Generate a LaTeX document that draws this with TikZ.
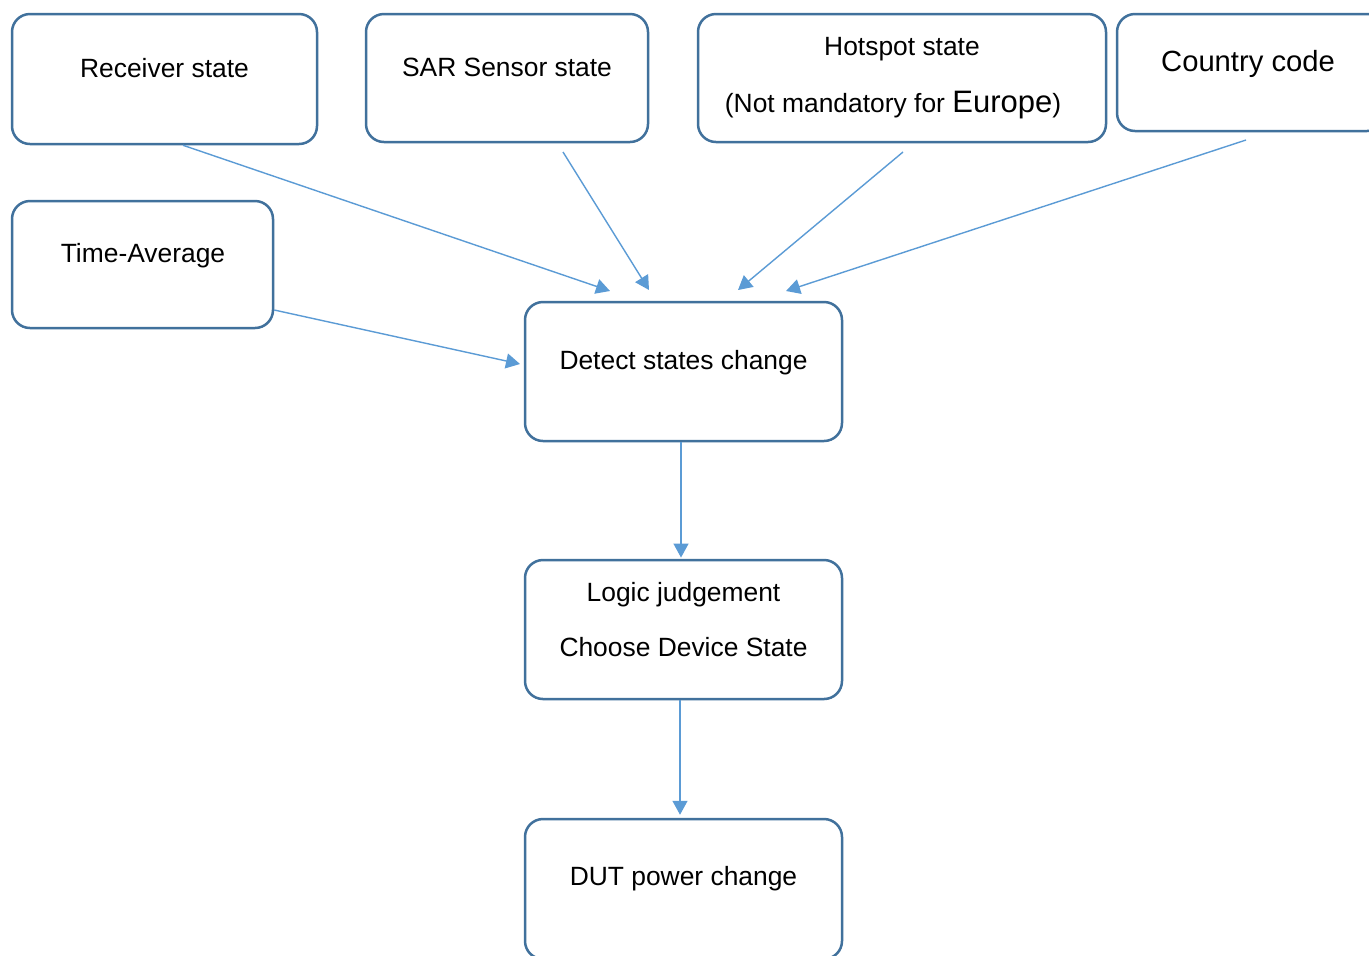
\documentclass[tikz,border=0pt]{standalone}
\usepackage{fontspec}
\setmainfont{Liberation Sans}
\usetikzlibrary{arrows.meta}
\definecolor{boxblue}{HTML}{41719C}
\definecolor{arrblue}{HTML}{5B9BD5}
\tikzset{
  box/.style={draw=boxblue, line width=1.25pt, rounded corners=9pt, fill=white, inner sep=0pt},
  lbl/.style={anchor=base, inner sep=0pt, font=\fontsize{13.2}{15}\selectfont, text=black},
  conn/.style={draw=arrblue, line width=0.7pt, -{Triangle[length=7pt,width=7.5pt]}}
}
\begin{document}
\begin{tikzpicture}[x=0.5pt,y=-0.5pt]
\useasboundingbox (0,0) rectangle (1369,955);
\clip (0,0) rectangle (1369,955);
\fill[white] (0,0) rectangle (1369,955);
% boxes
\node[box, minimum width=152.5pt, minimum height=65pt] (recv) at (164.5,79) {};
\node[box, minimum width=141pt, minimum height=64pt] (sar) at (507,78) {};
\node[box, minimum width=204pt, minimum height=64pt] (hot) at (902,78) {};
\node[box, minimum width=134pt, minimum height=58.5pt] (country) at (1251,72.5) {};
\node[box, minimum width=130.5pt, minimum height=63.5pt] (time) at (142.5,264.5) {};
\node[box, minimum width=158.5pt, minimum height=69.5pt] (detect) at (683.5,371.5) {};
\node[box, minimum width=158.5pt, minimum height=69.5pt] (logic) at (683.5,629.5) {};
\node[box, minimum width=158.5pt, minimum height=70pt] (dut) at (683.5,889) {};
% labels
\node[lbl] (recvt) at (164.5,77) {Receiver state};
\node[lbl] (sart) at (507,76) {SAR Sensor state};
\node[lbl] (hott) at (902,55) {Hotspot state};
\node[lbl] (hott2) at (893,112) {(Not mandatory for {\fontsize{15.5}{17}\selectfont Europe})};
\node[lbl, font=\fontsize{14.6}{17}\selectfont] (countryt) at (1248,71) {Country code};
\node[lbl] (timet) at (143,262) {Time-Average};
\node[lbl] (detectt) at (683.5,369) {Detect states change};
\node[lbl] (logict) at (683.5,601.5) {Logic judgement};
\node[lbl] (logict2) at (683.5,656) {Choose Device State};
\node[lbl] (dutt) at (683.5,885.5) {DUT power change};
% connector end points
\coordinate (a1e) at (610,291);
\coordinate (a2s) at (563,152);
\coordinate (a2e) at (649,290);
\coordinate (a3s) at (903,152);
\coordinate (a3e) at (738,290);
\coordinate (a4s) at (1246,140);
\coordinate (a4e) at (786,291);
\coordinate (a5e) at (520,364);
% connectors
\draw[conn] ([xshift=9.25pt]recv.south) -- (a1e);
\draw[conn] (a2s) -- (a2e);
\draw[conn] (a3s) -- (a3e);
\draw[conn] (a4s) -- (a4e);
\draw[conn] ([yshift=-22.75pt]time.east) -- (a5e);
\draw[conn, shorten >=0.6pt] ([xshift=-1.25pt]detect.south) -- ([xshift=-1.25pt]logic.north);
\draw[conn, shorten >=1.5pt] ([xshift=-1.75pt]logic.south) -- ([xshift=-1.75pt]dut.north);
\end{tikzpicture}
\end{document}
